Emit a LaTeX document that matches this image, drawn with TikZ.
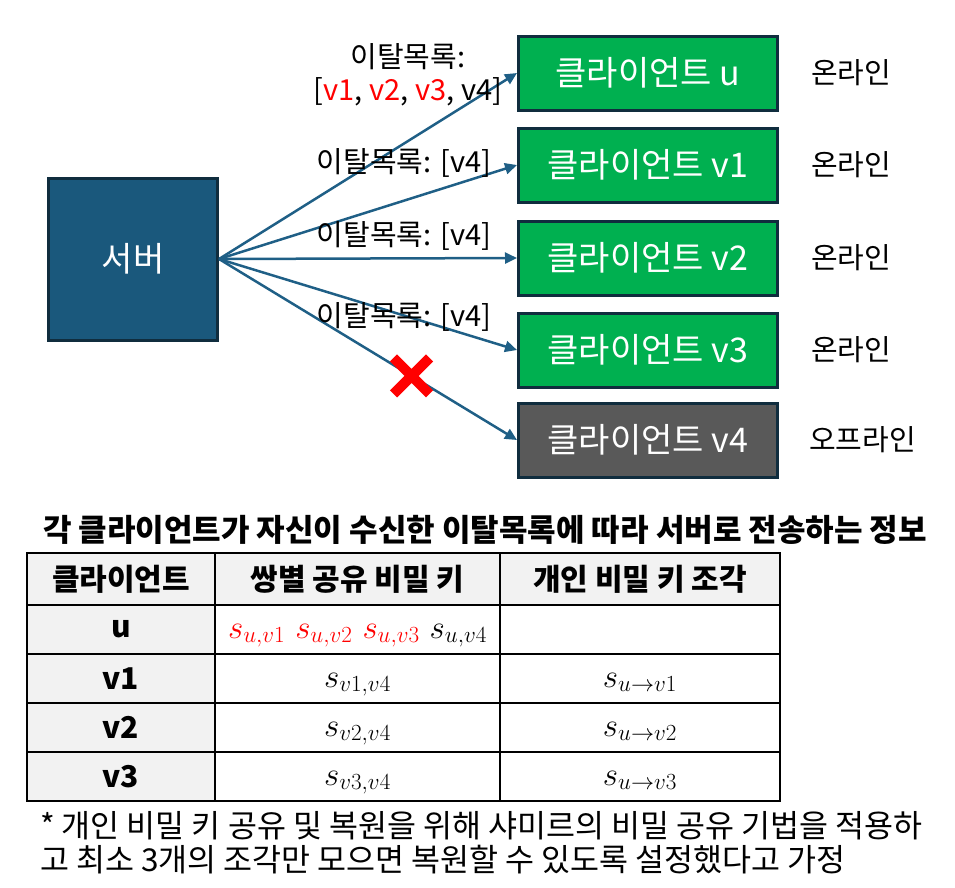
\documentclass[tikz,border=0pt]{standalone}
\usepackage{fix-cm}
\usepackage[no-math]{fontspec}
\setmainfont{Noto Sans CJK KR}
\usetikzlibrary{arrows.meta, positioning, shapes.misc}
\definecolor{serverblue}{RGB}{26, 88, 124}
\definecolor{edgenavy}{RGB}{16, 45, 62}
\definecolor{onlinegreen}{RGB}{0, 176, 80}
\definecolor{offgray}{RGB}{89, 89, 89}
\definecolor{linkblue}{RGB}{31, 95, 134}
\definecolor{cellgray}{RGB}{242, 242, 242}
\newcommand{\pxfont}[1]{\fontsize{#1}{#1}\selectfont}

\begin{document}
\begin{tikzpicture}[x=1pt, y=-1pt,
  box/.style={draw=edgenavy, line width=3pt, minimum width=259pt, minimum height=74pt, text=white, font=\pxfont{34}},
  client/.style={box, fill=onlinegreen},
  link/.style={-{Triangle[length=12pt, width=11pt]}, line width=2.5pt, linkblue},
  droplist/.style={font=\pxfont{29}, inner sep=0pt},
  status/.style={font=\pxfont{29}, inner sep=0pt, anchor=west},
  cell/.style={draw, line width=2pt, inner sep=0pt, minimum height=49pt, font=\pxfont{33}},
  keycell/.style={cell, text height=24pt, text depth=7pt},
  headcell/.style={cell, fill=cellgray, font=\pxfont{30}\bfseries}
]
\useasboundingbox (0,0) rectangle (955,887);

% server and clients
\node[box, fill=serverblue, minimum width=169pt, minimum height=162pt] (server) at (133,259) {서버};
\node[client] (cu) at (648,73) {클라이언트 u};
\node[client] (cv1) at (648,165) {클라이언트 v1};
\node[client] (cv2) at (648,258) {클라이언트 v2};
\node[client] (cv3) at (648,350) {클라이언트 v3};
\node[box, fill=offgray] (cv4) at (648,440) {클라이언트 v4};

\node[status, right=32pt of cu] (su) {온라인};
\node[status, right=32pt of cv1] (sv1) {온라인};
\node[status, right=32pt of cv2] (sv2) {온라인};
\node[status, right=32pt of cv3] (sv3) {온라인};
\node[status, right=30pt of cv4] (sv4) {오프라인};

% dropout lists sent by the server
\draw[link] (server.east) -- (cu.west);
\draw[link] (server.east) -- (cv1.west);
\draw[link] (server.east) -- (cv2.west);
\draw[link] (server.east) -- (cv3.west);
\draw[link] (server.east) -- node[pos=0.646, cross out, draw=red, line width=10pt, minimum size=26pt, inner sep=0pt] (cut) {} (cv4.west);

\node[droplist, align=center] (lu) at (408,75) {이탈목록:\\[4pt]{[}\textcolor{red}{v1}, \textcolor{red}{v2}, \textcolor{red}{v3}, v4{]}};
\node[droplist] (lv1) at (404,163) {이탈목록: [v4]};
\node[droplist] (lv2) at (404,236) {이탈목록: [v4]};
\node[droplist] (lv3) at (404,317) {이탈목록: [v4]};

% table
\node[font=\pxfont{31}\bfseries] (title) at (485,530) {각 클라이언트가 자신이 수신한 이탈목록에 따라 서버로 전송하는 정보};

\node[headcell, minimum width=188pt, minimum height=52pt] (h1) at (121,579) {클라이언트};
\node[headcell, minimum width=285pt, minimum height=52pt] (h2) at (357.5,579) {쌍별 공유 비밀 키};
\node[headcell, minimum width=280pt, minimum height=52pt] (h3) at (640,579) {개인 비밀 키 조각};

\node[headcell, minimum width=188pt] (ru) at (121,629.5) {u};
\node[headcell, minimum width=188pt] (rv1) at (121,678.5) {v1};
\node[headcell, minimum width=188pt] (rv2) at (121,727.5) {v2};
\node[headcell, minimum width=188pt] (rv3) at (121,776.5) {v3};

\node[keycell, minimum width=285pt] (pu) at (357.5,629.5) {\textcolor{red}{$s_{u,v1}$}\hspace{10pt}\textcolor{red}{$s_{u,v2}$}\hspace{10pt}\textcolor{red}{$s_{u,v3}$}\hspace{10pt}$s_{u,v4}$};
\node[keycell, minimum width=285pt] (pv1) at (357.5,678.5) {$s_{v1,v4}$};
\node[keycell, minimum width=285pt] (pv2) at (357.5,727.5) {$s_{v2,v4}$};
\node[keycell, minimum width=285pt] (pv3) at (357.5,776.5) {$s_{v3,v4}$};

\node[keycell, minimum width=280pt] (ku) at (640,629.5) {};
\node[keycell, minimum width=280pt] (kv1) at (640,678.5) {$s_{u\to v1}$};
\node[keycell, minimum width=280pt] (kv2) at (640,727.5) {$s_{u\to v2}$};
\node[keycell, minimum width=280pt] (kv3) at (640,776.5) {$s_{u\to v3}$};

\node[anchor=north west, align=left, inner sep=0pt, font=\fontsize{31.5}{34}\selectfont] (note) at (40,811) {* 개인 비밀 키 공유 및 복원을 위해 샤미르의 비밀 공유 기법을 적용하\\고 최소 3개의 조각만 모으면 복원할 수 있도록 설정했다고 가정};
\end{tikzpicture}
\end{document}
